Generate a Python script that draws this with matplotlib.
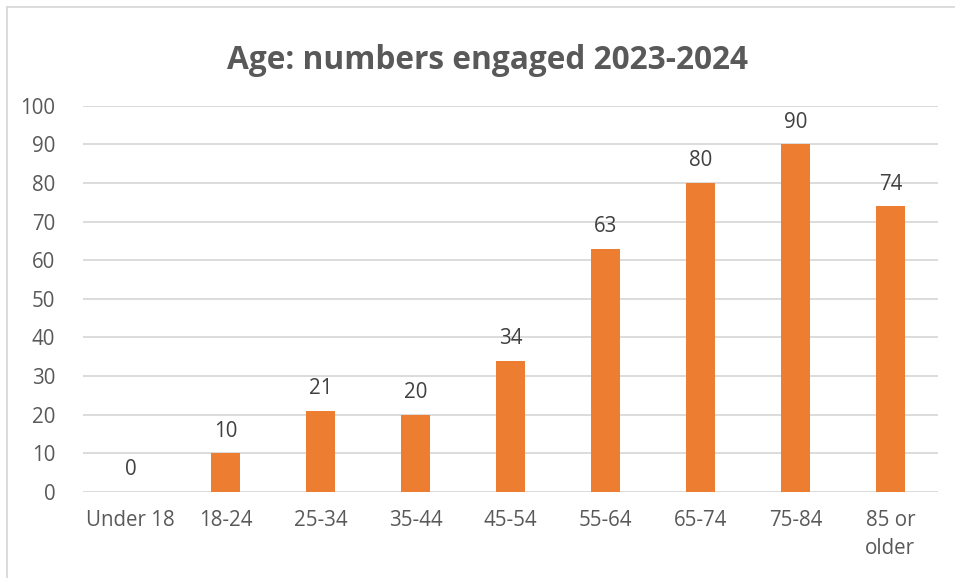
import matplotlib
matplotlib.use("Agg")
import matplotlib.pyplot as plt
from matplotlib.lines import Line2D

categories = ["Under 18", "18-24", "25-34", "35-44", "45-54",
              "55-64", "65-74", "75-84", "85 or\nolder"]
engaged = [0, 10, 21, 20, 34, 63, 80, 90, 74]
y_ticks = list(range(0, 101, 10))

plt.rcParams["font.family"] = ["Open Sans", "DejaVu Sans"]
text_col = "#595959"
bar_col = "#ed7d31"
grid_col = "#d9d9d9"

fig = plt.figure(figsize=(9.55, 5.78), dpi=100)
ax = fig.add_axes([0.087, 0.149, 0.895, 0.668])

x = range(len(categories))
ax.bar(x, engaged, width=0.305, color=bar_col, zorder=3)
for xi, v in zip(x, engaged):
    ax.text(xi, v + 3.0, str(v), ha="center", va="bottom",
            fontsize=14.8, color="#404040")

ax.set_xlim(-0.5, len(categories) - 0.5)
ax.set_ylim(0, 100)
ax.set_yticks(y_ticks)
ax.set_xticks(list(x))
ax.set_xticklabels(categories, va="top", linespacing=1.45)
ax.tick_params(axis="both", length=0, labelsize=14.8, colors=text_col)
ax.tick_params(axis="x", pad=13)
ax.tick_params(axis="y", pad=20)
ax.grid(axis="y", color=grid_col, linewidth=1.3, zorder=0)
for s in ax.spines.values():
    s.set_visible(False)

fig.text(0.51, 0.895, "Age: numbers engaged 2023-2024", ha="center",
         va="center", fontsize=22.8, fontweight="bold", color=text_col)

# outer chart border (only left and top edges fall inside the canvas)
fig.add_artist(Line2D([0.0073, 0.0073], [0.0, 0.988], transform=fig.transFigure,
                      color=grid_col, linewidth=1.3))
fig.add_artist(Line2D([0.0073, 1.0], [0.988, 0.988], transform=fig.transFigure,
                      color=grid_col, linewidth=1.3))

fig.savefig("out.png", dpi=100)
